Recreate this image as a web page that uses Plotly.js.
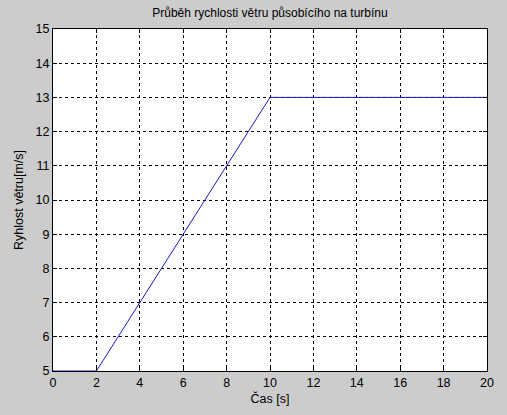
<!DOCTYPE html>
<html>
<head>
<meta charset="utf-8">
<script src="https://cdn.plot.ly/plotly-3.0.1.min.js"></script>
<style>
  html, body { margin: 0; padding: 0; background: #cccccc; }
  #chart { width: 507px; height: 415px; }
</style>
</head>
<body>
<div id="chart"></div>
<script>
var cas = [0, 2, 10, 20];
var rychlost = [5, 5, 13, 13];
var xTicks = [0, 2, 4, 6, 8, 10, 12, 14, 16, 18, 20];
var yTicks = [5, 6, 7, 8, 9, 10, 11, 12, 13, 14, 15];

var trace = {
  x: cas,
  y: rychlost,
  mode: 'lines',
  type: 'scatter',
  line: {color: '#1a1ac0', width: 1},
  hoverinfo: 'skip'
};

var axisStyle = {
  showline: true,
  linecolor: 'black',
  linewidth: 1,
  mirror: 'ticks',
  ticks: 'inside',
  ticklen: 4,
  tickcolor: 'black',
  showgrid: true,
  gridcolor: 'black',
  gridwidth: 1,
  griddash: '3px,3px',
  zeroline: false,
  tickfont: {family: 'Liberation Sans, Arial, sans-serif', size: 12.5, color: 'black'}
};

var layout = {
  width: 507,
  height: 415,
  margin: {l: 53, r: 20, t: 29, b: 44, pad: 0},
  paper_bgcolor: '#cccccc',
  plot_bgcolor: '#ffffff',
  showlegend: false,
  font: {family: 'Liberation Sans, Arial, sans-serif', size: 12, color: 'black'},
  title: {
    text: 'Průběh rychlosti větru působícího na turbínu',
    font: {size: 12},
    x: 0.5, xref: 'paper',
    y: 1, yref: 'paper', yanchor: 'bottom',
    pad: {b: 12}
  },
  xaxis: Object.assign({}, axisStyle, {
    range: [0, 20],
    tickvals: xTicks,
    title: {text: 'Čas [s]', font: {size: 12.5}, standoff: 5}
  }),
  yaxis: Object.assign({}, axisStyle, {
    range: [5, 15],
    tickvals: yTicks,
    title: {text: 'Ryhlost větru[m/s]', font: {size: 12.5}, standoff: 9}
  })
};

Plotly.newPlot('chart', [trace], layout, {staticPlot: true});
</script>
</body>
</html>
